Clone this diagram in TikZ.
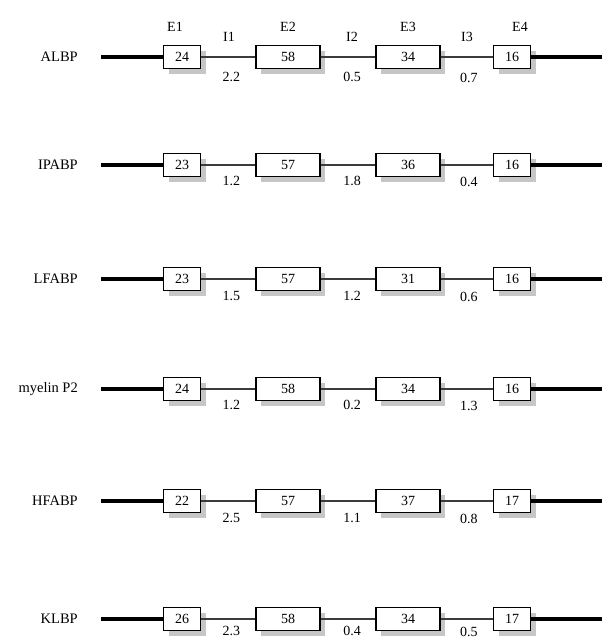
\documentclass[tikz,border=0pt]{standalone}
\usepackage{fontspec}
\setmainfont{Liberation Serif}
\usetikzlibrary{shadows, calc}
\definecolor{ShadowGray}{HTML}{C6C6C6}
\definecolor{IntronGray}{HTML}{3C3C3C}

\tikzset{
  exonbox/.style={draw=black, line width=1.4pt, fill=white, inner sep=0pt,
    minimum height=23pt, font=\fontsize{14}{16}\selectfont,
    drop shadow={shadow xshift=5pt, shadow yshift=-5pt, fill=ShadowGray, opacity=1}},
  shortexon/.style={exonbox, minimum width=37pt},
  longexon/.style={exonbox, minimum width=64pt},
  flank/.style={line width=3.6pt, black},
  intron/.style={line width=1.4pt, IntronGray},
  rowname/.style={anchor=east, inner sep=0pt, font=\fontsize{14.5}{16}\selectfont},
  headlabel/.style={inner sep=0pt, font=\fontsize{14}{16}\selectfont},
  sizelabel/.style={inner sep=0pt, font=\fontsize{14}{16}\selectfont}
}

\begin{document}
\begin{tikzpicture}[x=1pt, y=-1pt]
  \useasboundingbox[fill=white] (0,0) rectangle (602,640);

  % one gene per row
  \foreach \gene/\y/\dy/\ea/\eb/\ec/\ed/\ia/\ib/\ic [count=\i] in {
      ALBP/57/20/24/58/34/16/2.2/0.5/0.7,
      IPABP/165/16/23/57/36/16/1.2/1.8/0.4,
      LFABP/279/17/23/57/31/16/1.5/1.2/0.6,
      myelin P2/389/16/24/58/34/16/1.2/0.2/1.3,
      HFABP/501/17/22/57/37/17/2.5/1.1/0.8,
      KLBP/619/12/26/58/34/17/2.3/0.4/0.5} {
    \node[rowname] (name-\i) at (78,\y) {\gene};
    \coordinate (start-\i) at (101,\y);
    \coordinate (end-\i) at (602,\y);
    \node[shortexon] (E1-\i) at (182,\y) {\ea};
    \node[longexon] (E2-\i) at (288,\y) {\eb};
    \node[longexon] (E3-\i) at (408,\y) {\ec};
    \node[shortexon] (E4-\i) at (512,\y) {\ed};
    \draw[flank] (start-\i) -- (E1-\i.west);
    \draw[flank] (E4-\i.east) -- (end-\i);
    \draw[intron] (E1-\i.east) -- (E2-\i.west);
    \draw[intron] (E2-\i.east) -- (E3-\i.west);
    \draw[intron] (E3-\i.east) -- (E4-\i.west);
    \node[sizelabel] (I1-\i) at ($(E1-\i.east)!0.5!(E2-\i.west)+(3,\dy)$) {\ia};
    \node[sizelabel] (I2-\i) at ($(E2-\i.east)!0.5!(E3-\i.west)+(4,\dy)$) {\ib};
    \node[sizelabel] (I3-\i) at ($(E3-\i.east)!0.5!(E4-\i.west)+(2,\dy+1)$) {\ic};
  }

  % exon and intron names over the first row
  \node[headlabel] (head-E1) at (175,27) {E1};
  \node[headlabel] (head-I1) at (229,37) {I1};
  \node[headlabel] (head-E2) at (288,27) {E2};
  \node[headlabel] (head-I2) at (352,37) {I2};
  \node[headlabel] (head-E3) at (408,27) {E3};
  \node[headlabel] (head-I3) at (467,37) {I3};
  \node[headlabel] (head-E4) at (520,27) {E4};
\end{tikzpicture}
\end{document}
